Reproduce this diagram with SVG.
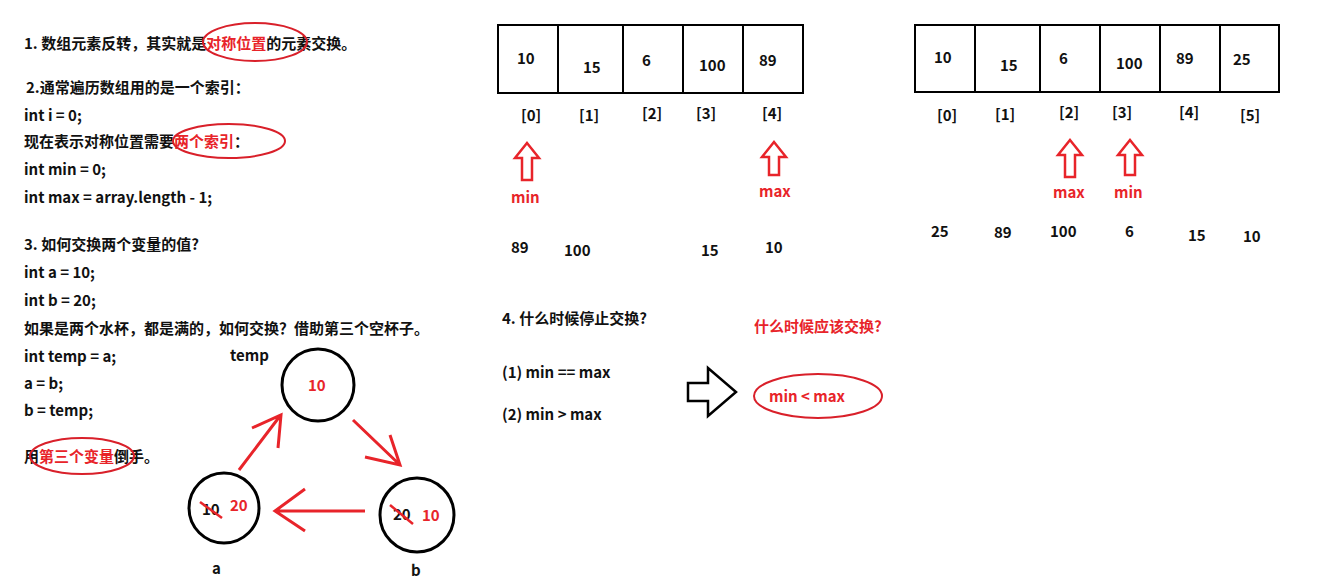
<svg xmlns="http://www.w3.org/2000/svg" width="1319" height="582" viewBox="0 0 1319 582">
<style>
text{font-family:"Microsoft YaHei","Noto Sans CJK SC","Liberation Sans",sans-serif;font-weight:bold;font-size:15px;fill:#111}
.r{fill:#e8242a}
.box{fill:none;stroke:#000;stroke-width:2}
.ring{fill:none;stroke:#d9202a;stroke-width:2}
.ra{fill:none;stroke:#e8242a;stroke-width:3}
.ho{fill:#fff;stroke:#e8242a;stroke-width:2.5}
.c{fill:none;stroke:#000;stroke-width:3}
</style>
<rect width="1319" height="582" fill="#fff"/>
<g id="notes">
<text x="24" y="49">1. 数组元素反转，其实就是<tspan class="r">对称位置</tspan>的元素交换。</text>
<ellipse class="ring" cx="255" cy="42" rx="52" ry="19"/>
<text x="26" y="93">2.通常遍历数组用的是一个索引：</text>
<text x="24" y="121">int i = 0;</text>
<text x="24" y="147">现在表示对称位置需要<tspan class="r">两个索引</tspan>：</text>
<ellipse class="ring" cx="229" cy="141" rx="56" ry="17"/>
<text x="24" y="175">int min = 0;</text>
<text x="24" y="203">int max = array.length - 1;</text>
<text x="24" y="250">3. 如何交换两个变量的值?</text>
<text x="24" y="278">int a = 10;</text>
<text x="24" y="306">int b = 20;</text>
<text x="24" y="334">如果是两个水杯，都是满的，如何交换？借助第三个空杯子。</text>
<text x="24" y="362">int temp = a;</text>
<text x="24" y="389">a = b;</text>
<text x="24" y="416">b = temp;</text>
<text x="24" y="462">用<tspan class="r">第三个变量</tspan>倒手。</text>
<ellipse class="ring" cx="82" cy="456" rx="52" ry="18"/>
</g>
<g id="cups">
<text x="230" y="361">temp</text>
<circle class="c" cx="318" cy="385" r="36"/>
<text class="r" x="308" y="391">10</text>
<circle class="c" cx="224" cy="508" r="35"/>
<text x="202" y="515">10</text><line x1="200" y1="502" x2="222" y2="518" stroke="#e8242a" stroke-width="2.5"/>
<text class="r" x="230" y="511">20</text>
<circle class="c" cx="417" cy="515" r="37"/>
<text x="393" y="520">20</text><line x1="390" y1="505" x2="413" y2="524" stroke="#e8242a" stroke-width="2.5"/>
<text class="r" x="422" y="521">10</text>
<text x="212" y="574">a</text>
<text x="411" y="576">b</text>
</g>
<g id="connectors">
<path class="ra" d="M239 470 L280 416 M252 428 L281 415 L278 448"/>
<path class="ra" d="M353 420 L400 465 M365 457 L400 465 L390 435"/>
<path class="ra" d="M365 511 L275 511 M305 489 L275 511 L305 531"/>
<path d="M688 383 H708 V368 L736 392 L708 416 V401 H688 Z" fill="#fff" stroke="#000" stroke-width="2.5"/>
</g>
<g id="array1">
<path class="box" d="M498 25 H803 V93 H498 Z M558 25 V93 M623 25 V93 M683 25 V93 M743 25 V93"/>
<text x="517" y="64">10</text><text x="583" y="73">15</text><text x="642" y="66">6</text><text x="699" y="71">100</text><text x="759" y="66">89</text>
<text x="521" y="121">[0]</text><text x="579" y="121">[1]</text><text x="642" y="119">[2]</text><text x="696" y="119">[3]</text><text x="762" y="119">[4]</text>
<path class="ho" d="M527 143 L539 158 H532 V180 H522 V158 H515 Z"/>
<text class="r" x="511" y="203">min</text>
<path class="ho" d="M774 142 L786 157 H779 V175 H769 V157 H762 Z"/>
<text class="r" x="759" y="197">max</text>
<text x="511" y="253">89</text><text x="564" y="256">100</text><text x="701" y="256">15</text><text x="765" y="253">10</text>
</g>
<g id="array2">
<path class="box" d="M915 25 H1279 V92 H915 Z M975 25 V92 M1040 25 V92 M1100 25 V92 M1160 25 V92 M1220 25 V92"/>
<text x="934" y="63">10</text><text x="1000" y="71">15</text><text x="1059" y="64">6</text><text x="1116" y="69">100</text><text x="1176" y="64">89</text><text x="1233" y="65">25</text>
<text x="937" y="121">[0]</text><text x="995" y="120">[1]</text><text x="1059" y="118">[2]</text><text x="1112" y="118">[3]</text><text x="1179" y="118">[4]</text><text x="1240" y="121">[5]</text>
<path class="ho" d="M1070 140 L1082 155 H1075 V177 H1065 V155 H1058 Z"/>
<text class="r" x="1053" y="198">max</text>
<path class="ho" d="M1130 140 L1142 155 H1135 V175 H1125 V155 H1118 Z"/>
<text class="r" x="1114" y="198">min</text>
<text x="931" y="237">25</text><text x="994" y="238">89</text><text x="1050" y="237">100</text><text x="1125" y="237">6</text><text x="1188" y="241">15</text><text x="1243" y="242">10</text>
</g>
<g id="stop">
<text x="502" y="324">4. 什么时候停止交换?</text>
<text x="502" y="378">(1) min == max</text>
<text x="502" y="420">(2) min &gt; max</text>
<text class="r" x="754" y="332">什么时候应该交换?</text>
<ellipse class="ring" cx="818" cy="396" rx="64" ry="22"/>
<text class="r" x="769" y="402">min &lt; max</text>
</g>
</svg>
